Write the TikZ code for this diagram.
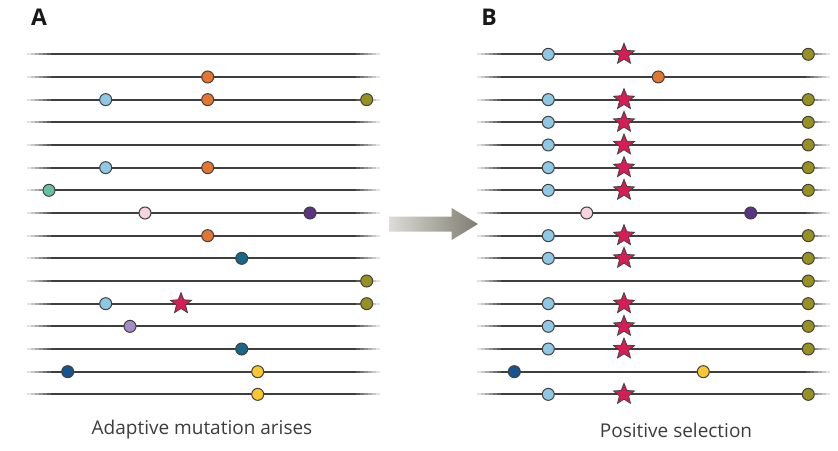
\documentclass[tikz,border=0pt]{standalone}
\usepackage{fontspec}
\setmainfont{Open Sans}
\usetikzlibrary{shapes.geometric}

\definecolor{skyb}{RGB}{142,200,228}
\definecolor{orng}{RGB}{228,118,48}
\definecolor{olive}{RGB}{150,145,32}
\definecolor{mint}{RGB}{104,192,162}
\definecolor{pinkish}{RGB}{246,212,222}
\definecolor{plum}{RGB}{92,52,132}
\definecolor{deepteal}{RGB}{22,104,132}
\definecolor{lavend}{RGB}{164,140,196}
\definecolor{navyb}{RGB}{22,84,144}
\definecolor{sun}{RGB}{250,200,44}
\definecolor{crimson}{RGB}{216,28,84}
\definecolor{linegray}{RGB}{62,62,62}
\definecolor{arrowlight}{RGB}{222,220,214}
\definecolor{arrowdark}{RGB}{128,124,114}
\definecolor{txtgray}{RGB}{60,60,60}

\tikzset{
  chrom/.style={line width=2pt,line cap=butt},
  snp/.style={circle,draw=black!75,line width=1pt,minimum size=12pt,inner sep=0pt},
  adapt/.style={star,star points=5,star point ratio=2.3,draw=black!75,fill=crimson,
    line width=0.8pt,minimum size=22pt,inner sep=0pt},
  panel/.style={font=\fontsize{23}{23}\selectfont\bfseries,text=black!90},
  caption/.style={font=\fontsize{19}{19}\selectfont,text=txtgray}
}

% row y, left end, right end (ends fade out)
\newcommand{\chromline}[3]{%
  \draw[chrom,linegray] (#2+24,#1) -- (#3-24,#1);
  \foreach \s in {0,...,5} {
    \pgfmathsetmacro{\pct}{(\s+1)*100/7}
    \draw[chrom,linegray!\pct] (#2+4*\s,#1) -- (#2+4*\s+4.3,#1);
    \draw[chrom,linegray!\pct] (#3-4*\s,#1) -- (#3-4*\s-4.3,#1);
  }
}

\begin{document}
\begin{tikzpicture}[x=1pt,y=-1pt]
\useasboundingbox (0,0) rectangle (838,450);

% chromosomes
\foreach \r in {1,...,16} {
  \pgfmathsetmacro{\yy}{54.3+(\r-1)*22.67}
  \chromline{\yy}{27}{380}
  \chromline{\yy}{477}{830}
}

% panel A
\foreach \x/\r/\c [count=\k] in {
  207.7/2/orng, 105.7/3/skyb, 207.7/3/orng, 366.7/3/olive,
  105.7/6/skyb, 207.7/6/orng, 49/7/mint, 145/8/pinkish, 310/8/plum,
  207.7/9/orng, 241.7/10/deepteal, 366.7/11/olive, 105.7/12/skyb,
  366.7/12/olive, 130/13/lavend, 241.7/14/deepteal, 67.7/15/navyb,
  257.7/15/sun, 257.7/16/sun}
  \node[snp,fill=\c] (a\k) at (\x,{54.3+(\r-1)*22.67}) {};
\node[adapt] (astar) at (181,{54.3+11*22.67}) {};

% panel B
\foreach \r in {1,3,4,5,6,7,9,10,12,13,14,16} {
  \node[snp,fill=skyb] (bl\r) at (548.3,{54.3+(\r-1)*22.67}) {};
  \node[adapt] (bs\r) at (624,{54.3+(\r-1)*22.67}) {};
}
\foreach \r in {1,3,4,5,6,7,9,10,11,12,13,14,16}
  \node[snp,fill=olive] (bo\r) at (808.3,{54.3+(\r-1)*22.67}) {};
\foreach \x/\r/\c [count=\k] in {
  658.3/2/orng, 586.7/8/pinkish, 750.7/8/plum, 514.3/15/navyb, 703.3/15/sun}
  \node[snp,fill=\c] (b\k) at (\x,{54.3+(\r-1)*22.67}) {};

% arrow between panels
\shade[left color=arrowlight,right color=arrowdark]
  (389,216.7) -- (451.7,216.7) -- (451.7,208) -- (478,224)
  -- (451.7,240) -- (451.7,231.7) -- (389,231.7) -- cycle;

% labels
\node[panel] (labA) at (39,17) {A};
\node[panel] (labB) at (489,17) {B};
\node[caption] (capA) at (202,430) {Adaptive mutation arises};
\node[caption] (capB) at (676,430) {Positive selection};
\end{tikzpicture}
\end{document}
